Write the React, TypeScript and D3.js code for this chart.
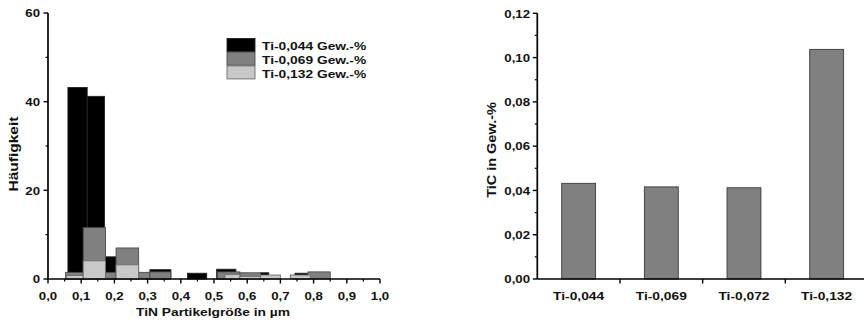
import React from "react";
import * as d3 from "d3";

// ---------- Data ----------
// Histogram bins: [binStart, binEnd, count] (TiN particle size in µm)
const binsTi044: [number, number, number][] = [
  [0.06, 0.118, 43.2],
  [0.118, 0.17, 41.2],
  [0.17, 0.205, 5.0],
  [0.307, 0.37, 2.1],
  [0.42, 0.478, 1.3],
  [0.508, 0.566, 2.2],
  [0.64, 0.665, 1.4],
  [0.744, 0.783, 1.3],
];
const binsTi069: [number, number, number][] = [
  [0.053, 0.106, 1.5],
  [0.106, 0.173, 11.6],
  [0.173, 0.205, 1.5],
  [0.205, 0.273, 7.0],
  [0.273, 0.307, 1.5],
  [0.307, 0.37, 1.6],
  [0.51, 0.578, 1.6],
  [0.578, 0.64, 1.4],
  [0.783, 0.85, 1.6],
];
const binsTi132: [number, number, number][] = [
  [0.055, 0.106, 0.8],
  [0.106, 0.173, 4.1],
  [0.205, 0.273, 3.2],
  [0.533, 0.578, 1.0],
  [0.578, 0.64, 0.6],
  [0.64, 0.7, 0.9],
  [0.73, 0.79, 0.9],
];
const legendLabels = ["Ti-0,044 Gew.-%", "Ti-0,069 Gew.-%", "Ti-0,132 Gew.-%"];
const histXTicks = [0, 0.1, 0.2, 0.3, 0.4, 0.5, 0.6, 0.7, 0.8, 0.9, 1.0];
const histYTicks = [0, 20, 40, 60];

// Bar chart: TiC content
const ticCategories = ["Ti-0,044", "Ti-0,069", "Ti-0,072", "Ti-0,132"];
const ticValues = [0.0432, 0.0416, 0.0412, 0.1037];
const ticYTicks = [0, 0.02, 0.04, 0.06, 0.08, 0.1, 0.12];

const FONT = "'Liberation Sans', Arial, Helvetica, sans-serif";
const SX = 1.15;

function SText({ x, y, anchor = "middle", size = 11.5, children, sx = SX }: any) {
  return (
    <text
      transform={`translate(${x},${y}) scale(${sx},1)`}
      textAnchor={anchor}
      fontFamily={FONT}
      fontWeight="bold"
      fontSize={size}
      fill="#111"
    >
      {children}
    </text>
  );
}

const fmt = (v: number, d: number) => v.toFixed(d).replace(".", ",");

export default function App() {
  // ---------- Left: histogram ----------
  const hx = d3.scaleLinear().domain([0, 1]).range([48, 380]);
  const hy = d3.scaleLinear().domain([0, 60]).range([279, 13]);
  const series = [
    { bins: binsTi044, fill: "#000000", stroke: "#222" },
    { bins: binsTi069, fill: "#808080", stroke: "#4a4a4a" },
    { bins: binsTi132, fill: "#c8c8c8", stroke: "#6a6a6a" },
  ];
  const hMinorX = d3.range(0.05, 1.0, 0.1);
  const hMinorY = [10, 30, 50];

  // ---------- Right: bar chart ----------
  const bx = d3
    .scaleBand<string>()
    .domain(ticCategories)
    .range([537.3, 868])
    .paddingInner(0.59)
    .paddingOuter(0.295);
  const by = d3.scaleLinear().domain([0, 0.12]).range([279, 13.3]);
  const bMinorY = d3.range(0.01, 0.12, 0.02);

  return (
    <svg
      width={864}
      height={327}
      style={{ position: "absolute", left: 0, top: 0, background: "#fff" }}
    >
      <rect x={0} y={0} width={864} height={327} fill="#fff" />

      {/* Histogram bars */}
      {series.map((s, si) =>
        s.bins.map((b, i) => (
          <rect
            key={`h${si}-${i}`}
            x={hx(b[0])}
            y={hy(b[2])}
            width={hx(b[1]) - hx(b[0])}
            height={hy(0) - hy(b[2])}
            fill={s.fill}
            stroke={s.stroke}
            strokeWidth={0.9}
          />
        ))
      )}

      {/* Histogram axes */}
      <line x1={hx(0)} x2={hx(1)} y1={hy(0)} y2={hy(0)} stroke="#000" strokeWidth={1.7} />
      <line x1={hx(0)} x2={hx(0)} y1={hy(0)} y2={hy(60)} stroke="#000" strokeWidth={1.7} />
      {histXTicks.map((t) => (
        <g key={`hxt${t}`}>
          <line x1={hx(t)} x2={hx(t)} y1={hy(0)} y2={hy(0) + 4.5} stroke="#000" strokeWidth={1.4} />
          <SText x={hx(t)} y={300}>{fmt(t, 1)}</SText>
        </g>
      ))}
      {hMinorX.map((t) => (
        <line key={`hxm${t}`} x1={hx(t)} x2={hx(t)} y1={hy(0)} y2={hy(0) + 2.5} stroke="#000" strokeWidth={1.2} />
      ))}
      {histYTicks.map((t) => (
        <g key={`hyt${t}`}>
          <line x1={hx(0) - 4.5} x2={hx(0)} y1={hy(t)} y2={hy(t)} stroke="#000" strokeWidth={1.4} />
          <SText x={40} y={hy(t) + 4.2} anchor="end">{t}</SText>
        </g>
      ))}
      {hMinorY.map((t) => (
        <line key={`hym${t}`} x1={hx(0) - 2.5} x2={hx(0)} y1={hy(t)} y2={hy(t)} stroke="#000" strokeWidth={1.2} />
      ))}
      <SText x={213} y={315.5} size={11.5} sx={1.2}>TiN Partikelgröße in µm</SText>
      <text
        transform={`translate(18,154) rotate(-90) scale(1,0.85)`}
        textAnchor="middle"
        fontFamily={FONT}
        fontWeight="bold"
        fontSize={15.5}
        fill="#111"
      >
        Häufigkeit
      </text>

      {/* Legend */}
      {series.map((s, i) => (
        <g key={`lg${i}`}>
          <rect
            x={227}
            y={38.5 + i * 13.7}
            width={28}
            height={13}
            fill={s.fill}
            stroke={s.stroke}
            strokeWidth={0.9}
          />
          <SText x={262} y={50.3 + i * 13.7} anchor="start" size={11.5} sx={1.2}>
            {legendLabels[i]}
          </SText>
        </g>
      ))}

      {/* Bar chart */}
      {ticCategories.map((c, i) => (
        <rect
          key={`b${c}`}
          x={bx(c)!}
          y={by(ticValues[i])}
          width={bx.bandwidth()}
          height={by(0) - by(ticValues[i])}
          fill="#808080"
          stroke="#3a3a3a"
          strokeWidth={0.9}
        />
      ))}
      <line x1={537.3} x2={864} y1={by(0)} y2={by(0)} stroke="#000" strokeWidth={1.7} />
      <line x1={537.3} x2={537.3} y1={by(0)} y2={by(0.12)} stroke="#000" strokeWidth={1.7} />
      {ticCategories.slice(1).map((c) => (
        <line
          key={`bxt${c}`}
          x1={bx(c)! - bx.step() * 0.295}
          x2={bx(c)! - bx.step() * 0.295}
          y1={by(0)}
          y2={by(0) + 4.5}
          stroke="#000"
          strokeWidth={1.4}
        />
      ))}
      {ticCategories.map((c) => (
        <SText key={`bxl${c}`} x={bx(c)! + bx.bandwidth() / 2} y={300} size={11.5} sx={1.2}>
          {c}
        </SText>
      ))}
      {ticYTicks.map((t) => (
        <g key={`byt${t}`}>
          <line x1={537.3 - 4.5} x2={537.3} y1={by(t)} y2={by(t)} stroke="#000" strokeWidth={1.4} />
          <SText x={530} y={by(t) + 4.2} anchor="end">{fmt(t, 2)}</SText>
        </g>
      ))}
      {bMinorY.map((t) => (
        <line key={`bym${t}`} x1={537.3 - 2.5} x2={537.3} y1={by(t)} y2={by(t)} stroke="#000" strokeWidth={1.2} />
      ))}
      <text
        transform={`translate(496,150) rotate(-90) scale(1,0.85)`}
        textAnchor="middle"
        fontFamily={FONT}
        fontWeight="bold"
        fontSize={14.5}
        fill="#111"
      >
        TiC in Gew.-%
      </text>
    </svg>
  );
}
